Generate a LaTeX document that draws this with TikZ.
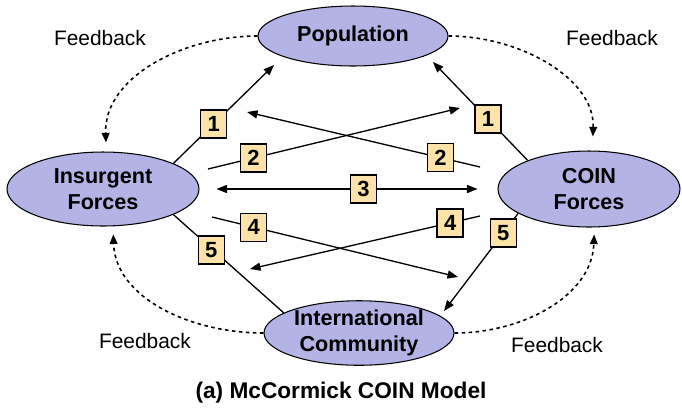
\documentclass[tikz,border=0pt]{standalone}
\usepackage{fontspec}
\setmainfont{Liberation Sans}
\usetikzlibrary{arrows.meta,shapes.geometric}

\definecolor{ovalfill}{RGB}{179,179,230}
\definecolor{boxfill}{RGB}{253,227,167}

\tikzset{
  actor/.style={ellipse, draw, line width=0.6pt, fill=ovalfill, inner sep=0pt,
    align=center, font=\fontsize{12.3}{14.5}\selectfont\bfseries},
  numbox/.style={draw, line width=0.7pt, fill=boxfill, inner sep=0pt,
    minimum width=0.52cm, minimum height=0.56cm, font=\fontsize{12.5}{14}\selectfont\bfseries},
  link/.style={line width=0.75pt, -{Triangle[length=6pt,width=4.6pt]}},
  feedback/.style={line width=0.9pt, dash pattern=on 2pt off 2pt, -{Triangle[length=5.5pt,width=4.4pt]}},
  fbtext/.style={font=\fontsize{11.9}{14}\selectfont}
}

\begin{document}
\begin{tikzpicture}[x=0.02cm, y=-0.02cm]
\useasboundingbox (0,0) rectangle (682,410);

% The four actors
\node[actor, minimum width=3.8cm, minimum height=1.2cm] (pop) at (353,36) {Population};
\node[actor, minimum width=3.84cm, minimum height=1.48cm] (ins) at (103,189) {Insurgent\\Forces};
\node[actor, minimum width=3.64cm, minimum height=1.52cm] (coin) at (589,189) {COIN\\Forces};
\node[actor, minimum width=3.8cm, minimum height=1.2cm] (intl) at (359,333) {International\\Community};

% Free ends of the links
\coordinate (popL) at (274,65);
\coordinate (popR) at (433,62);
\coordinate (insA) at (208,169);
\coordinate (insB) at (212,217);
\coordinate (coinA) at (480,167);
\coordinate (coinB) at (480,216);
\coordinate (midA) at (460,108);
\coordinate (midB) at (247,112);
\coordinate (midC) at (458,277);
\coordinate (midD) at (250,269);
\coordinate (intlR) at (444,311);

% Links with their numbers
\draw[link] (ins.20) -- node[numbox, pos=0.4] (n1a) {1} (popL);
\draw[link] (coin.155) -- node[numbox, pos=0.42] (n1b) {1} (popR);
\draw[link] (insA) -- node[numbox, pos=0.18] (n2a) {2} (midA);
\draw[link] (coinA) -- node[numbox, pos=0.17] (n2b) {2} (midB);
\draw[link, {Triangle[length=6pt,width=4.6pt]}-{Triangle[length=6pt,width=4.6pt]},
  shorten <=0.34cm, shorten >=0.4cm] (ins.east) -- node[numbox, pos=0.55] (n3) {3} (coin.west);
\draw[link] (insB) -- node[numbox, pos=0.17] (n4a) {4} (midC);
\draw[link] (coinB) -- node[numbox, pos=0.13] (n4b) {4} (midD);
\draw[line width=0.75pt] (ins.340) -- node[numbox, pos=0.32, xshift=0.05cm, yshift=-0.08cm] (n5a) {5} (intl.165);
\draw[link] (coin.199) -- node[numbox, pos=0.2] (n5b) {5} (intlR);

% Feedback loops
\draw[feedback, shorten >=0.18cm] (pop.west) to[out=180, in=92] (ins.85);
\draw[feedback, shorten >=0.28cm] (pop.east) to[out=0, in=88] (coin.85);
\draw[feedback, shorten >=0.16cm] (intl.west) to[out=180, in=-88] (ins.-75);
\draw[feedback, shorten >=0.14cm] (intl.east) to[out=0, in=-92] (coin.-82);

\node[fbtext] (fb1) at (100,38) {Feedback};
\node[fbtext] (fb2) at (612,38) {Feedback};
\node[fbtext] (fb3) at (145,341) {Feedback};
\node[fbtext] (fb4) at (557,345) {Feedback};

% Caption
\node[font=\fontsize{12.9}{15}\selectfont\bfseries] (cap) at (341,393) {(a) McCormick COIN Model};
\end{tikzpicture}
\end{document}
